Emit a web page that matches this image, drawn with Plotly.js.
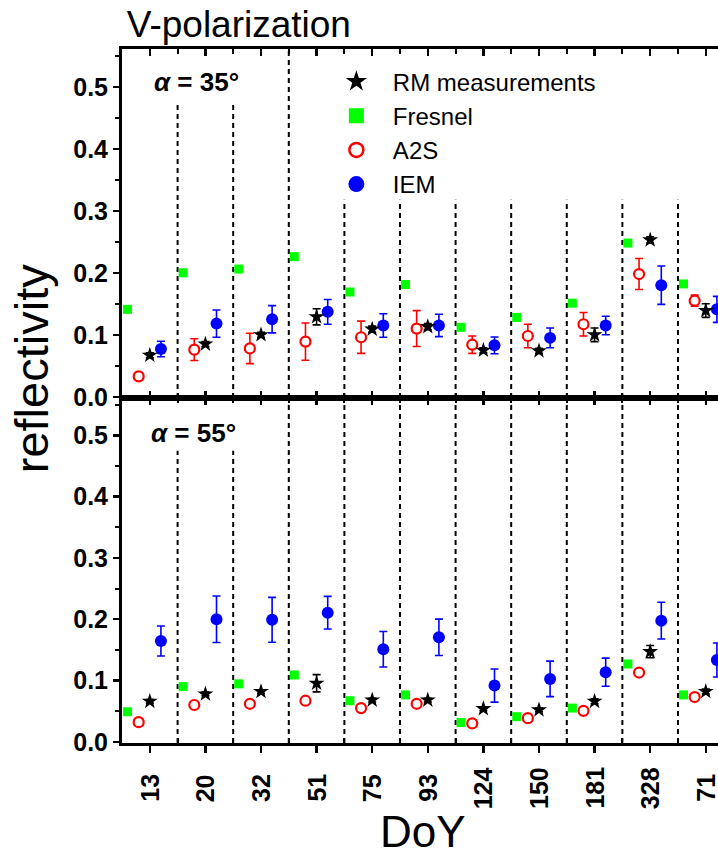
<!DOCTYPE html>
<html><head><meta charset="utf-8">
<script src="https://cdn.plot.ly/plotly-3.0.1.min.js"></script>
<style>html,body{margin:0;padding:0;background:#fff}</style>
</head><body><div id="chart" style="width:718px;height:859px"></div>
<script>
// ---- data ----
const categories = ['13','20','32','51','75','93','124','150','181','328','71'];

// alpha = 35 deg (top panel)
const rm35      = [0.067, 0.085, 0.100, 0.129, 0.109, 0.113, 0.075, 0.074, 0.100, 0.253, 0.139];
const rm35Err   = [0.004, 0.004, 0.004, 0.013, 0.005, 0.005, 0.004, 0.004, 0.011, 0.005, 0.011];
const fresnel35 = [0.141, 0.200, 0.206, 0.226, 0.169, 0.181, 0.112, 0.128, 0.151, 0.248, 0.182];
const a2s35     = [0.033, 0.076, 0.078, 0.089, 0.096, 0.110, 0.084, 0.098, 0.117, 0.198, 0.155];
const a2s35Err  = [0.006, 0.0175, 0.0245, 0.030, 0.026, 0.029, 0.014, 0.019, 0.019, 0.025, 0.009];
const iem35     = [0.077, 0.118, 0.125, 0.137, 0.115, 0.115, 0.083, 0.095, 0.115, 0.180, 0.141];
const iem35Err  = [0.0125, 0.022, 0.022, 0.020, 0.019, 0.018, 0.0135, 0.016, 0.015, 0.031, 0.021];

// alpha = 55 deg (bottom panel)
const rm55      = [0.066, 0.078, 0.082, 0.0955, 0.068, 0.068, 0.054, 0.052, 0.066, 0.147, 0.082];
const rm55Err   = [0.003, 0.003, 0.003, 0.014, 0.003, 0.003, 0.003, 0.003, 0.004, 0.010, 0.004];
const fresnel55 = [0.049, 0.090, 0.0945, 0.109, 0.067, 0.0765, 0.0315, 0.041, 0.055, 0.127, 0.0765];
const a2s55     = [0.032, 0.060, 0.062, 0.067, 0.055, 0.062, 0.030, 0.0385, 0.0505, 0.113, 0.073];
const a2s55Err  = [0.003, 0.003, 0.003, 0.003, 0.003, 0.003, 0.003, 0.003, 0.003, 0.003, 0.003];
const iem55     = [0.1645, 0.200, 0.199, 0.2106, 0.151, 0.1705, 0.0917, 0.1026, 0.1135, 0.1976, 0.1335];
const iem55Err  = [0.0245, 0.038, 0.0366, 0.0266, 0.029, 0.0296, 0.027, 0.029, 0.023, 0.030, 0.0277];

// upper ends of the dashed separators between categories (reflectivity units)
const sepTop35 = [0.474, 0.474, 0.561, 0.318, 0.318, 0.318, 0.318, 0.318, 0.318, 0.318];
const sepTop55 = [0.475, 0.475, 0.561, 0.561, 0.561, 0.561, 0.561, 0.561, 0.561, 0.561];

const seriesNames = ['RM measurements', 'Fresnel', 'A2S', 'IEM'];

// ---- build ----
const idx = categories.map((c, i) => i);
const off = {rm: 0, fr: -0.4, a2s: -0.2, iem: 0.2};
const X = o => idx.map(i => i + o);
const YR = [-0.002, 0.561];
const XR = [-0.5, 10.22];

const mk = {
  rm:  {symbol: 'star', size: 12, color: 'black', line: {width: 0}},
  fr:  {symbol: 'square', size: 9, color: '#00ff00', line: {width: 0}},
  a2s: {symbol: 'circle', size: 10, color: 'white', line: {color: '#ff0000', width: 2.2}},
  iem: {symbol: 'circle', size: 12, color: '#0000ff', line: {width: 0}}
};
const errCol = {rm: 'black', fr: '#00ff00', a2s: '#ff0000', iem: '#0000ff'};

function series(key, yv, ev, xa, ya) {
  const t = {type: 'scatter', mode: 'markers', x: X(off[key]), y: yv, xaxis: xa, yaxis: ya,
    marker: mk[key], showlegend: false, hoverinfo: 'skip'};
  if (ev) t.error_y = {type: 'data', array: ev, visible: true, color: errCol[key], thickness: 1.6, width: 4};
  return t;
}

const traces = [
  series('fr', fresnel35, null, 'x2', 'y2'),
  series('a2s', a2s35, a2s35Err, 'x2', 'y2'),
  series('iem', iem35, iem35Err, 'x2', 'y2'),
  series('rm', rm35, rm35Err, 'x2', 'y2'),
  series('fr', fresnel55, null, 'x', 'y'),
  series('a2s', a2s55, a2s55Err, 'x', 'y'),
  series('iem', iem55, iem55Err, 'x', 'y'),
  series('rm', rm55, rm55Err, 'x', 'y'),
  {type: 'scatter', x: [], y: [], xaxis: 'x3', yaxis: 'y', showlegend: false, hoverinfo: 'skip'}
];
// legend entries
const legMk = {
  rm:  {symbol: 'star', size: 16, color: 'black'},
  fr:  {symbol: 'square', size: 15, color: '#00ff00'},
  a2s: {symbol: 'circle', size: 14, color: 'white', line: {color: '#ff0000', width: 2.5}},
  iem: {symbol: 'circle', size: 17, color: '#0000ff'}
};
['rm', 'fr', 'a2s', 'iem'].forEach((k, j) => traces.push({
  type: 'scatter', mode: 'markers', x: [null], y: [null], xaxis: 'x2', yaxis: 'y2',
  name: seriesNames[j], marker: legMk[k], showlegend: true
}));

const halves = idx.slice(1).map(i => i - 0.5);
const xBase = {range: XR, tickmode: 'array', tickvals: idx, showticklabels: false,
  ticklen: 7, tickwidth: 2.5, tickcolor: 'black', showline: true, linewidth: 3, linecolor: 'black',
  showgrid: false, zeroline: false, fixedrange: true};
const yBase = {range: YR, tick0: 0, dtick: 0.1, tickformat: '.1f', ticks: 'outside', ticklen: 6,
  tickwidth: 2.5, tickcolor: 'black', showline: true, linewidth: 3, linecolor: 'black',
  showgrid: false, zeroline: false, tickfont: {size: 25, color: 'black', weight: 'bold'},
  minor: {dtick: 0.05, tick0: 0, ticks: 'outside', ticklen: 4, tickwidth: 2, tickcolor: 'black', showgrid: false}};

const shapes = [];
halves.forEach((h, k) => {
  shapes.push({type: 'line', xref: 'x2', yref: 'y2', x0: h, x1: h, y0: YR[0], y1: sepTop35[k],
    line: {color: 'black', width: 2, dash: '5px,4px'}, layer: 'below'});
  shapes.push({type: 'line', xref: 'x', yref: 'y', x0: h, x1: h, y0: YR[0], y1: sepTop55[k],
    line: {color: 'black', width: 2, dash: '5px,4px'}, layer: 'below'});
});

const annotations = [
  {xref: 'paper', yref: 'paper', x: 0.05, y: 0.952, xanchor: 'left', yanchor: 'middle', showarrow: false,
   text: '<b><i>α</i> = 35°</b>', font: {size: 26, color: 'black'}},
  {xref: 'paper', yref: 'paper', x: 0.045, y: 0.447, xanchor: 'left', yanchor: 'middle', showarrow: false,
   text: '<b><i>α</i> = 55°</b>', font: {size: 26, color: 'black'}},
  {xref: 'paper', yref: 'paper', x: -0.1527, y: 0.540, xanchor: 'center', yanchor: 'middle', showarrow: false,
   text: 'reflectivity', textangle: -90, font: {size: 47, color: 'black'}},
  {xref: 'paper', yref: 'paper', x: 0.505, y: -0.128, xanchor: 'center', yanchor: 'middle', showarrow: false,
   text: 'DoY', font: {size: 44, color: 'black'}}
];
categories.forEach((c, i) => annotations.push({
  xref: 'x', yref: 'paper', x: i, y: -0.0648, xanchor: 'center', yanchor: 'middle', showarrow: false,
  text: '<b>' + c + '</b>', textangle: -90, font: {size: 25, color: 'black'}
}));

const layout = {
  width: 718, height: 859,
  margin: {l: 122, r: 0, t: 49, b: 116, pad: 0},
  paper_bgcolor: 'white', plot_bgcolor: 'white',
  font: {family: 'Liberation Sans, Arial, sans-serif', color: 'black'},
  title: {text: 'V-polarization', xref: 'paper', x: 0.008, xanchor: 'left',
          yref: 'container', y: 0.972, yanchor: 'middle', font: {size: 37, color: 'black'}},
  showlegend: true,
  legend: {x: 0.332, y: 0.985, xanchor: 'left', yanchor: 'top', bgcolor: 'rgba(0,0,0,0)',
           font: {size: 24, color: 'black'}, itemwidth: 63, tracegroupgap: 0},
  xaxis: Object.assign({}, xBase, {anchor: 'y', domain: [0, 1], ticks: 'outside',
    minor: {tickmode: 'array', tickvals: halves, ticks: 'inside', ticklen: 5, tickwidth: 2, tickcolor: 'black', showgrid: false}}),
  xaxis3: Object.assign({}, xBase, {anchor: 'y', overlaying: 'x', side: 'top', ticks: 'inside',
    minor: {tickmode: 'array', tickvals: halves, ticks: 'inside', ticklen: 5, tickwidth: 2, tickcolor: 'black', showgrid: false}}),
  xaxis2: Object.assign({}, xBase, {anchor: 'y2', domain: [0, 1], ticks: 'inside', mirror: 'allticks',
    minor: {tickmode: 'array', tickvals: halves, ticks: 'inside', ticklen: 5, tickwidth: 2, tickcolor: 'black', showgrid: false}}),
  yaxis: Object.assign({}, yBase, {anchor: 'x', domain: [0, 0.4971]}),
  yaxis2: Object.assign({}, yBase, {anchor: 'x2', domain: [0.4971, 1]}),
  shapes: shapes,
  annotations: annotations
};

Plotly.newPlot('chart', traces, layout, {displayModeBar: false, staticPlot: true});
</script></body></html>
